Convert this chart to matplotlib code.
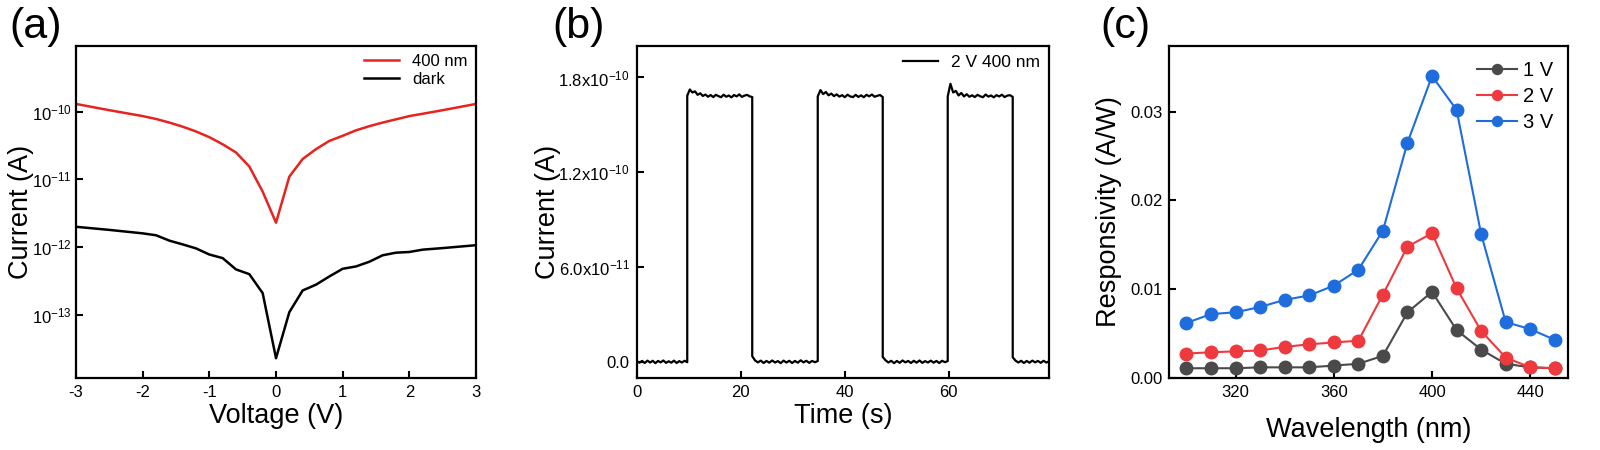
import numpy as np
import matplotlib
matplotlib.use('Agg')
import matplotlib.pyplot as plt

plt.rcParams['font.family'] = ['Liberation Sans', 'DejaVu Sans']
plt.rcParams['mathtext.default'] = 'regular'
plt.rcParams['axes.unicode_minus'] = False

# (a) I-V curves
voltage = [-3.0, -2.5, -2.0, -1.8, -1.6, -1.4, -1.2, -1.0, -0.8, -0.6, -0.4, -0.2, 0.0,
           0.2, 0.4, 0.6, 0.8, 1.0, 1.2, 1.4, 1.6, 1.8, 2.0, 2.2, 2.5, 3.0]
i_400nm = [1.3e-10, 1.05e-10, 8.6e-11, 7.8e-11, 6.9e-11, 6.0e-11, 5.1e-11, 4.2e-11, 3.3e-11, 2.5e-11,
           1.55e-11, 6.6e-12, 2.3e-12, 1.1e-11, 2.0e-11, 2.8e-11, 3.7e-11, 4.4e-11, 5.3e-11,
           6.1e-11, 6.9e-11, 7.7e-11, 8.6e-11, 9.3e-11, 1.05e-10, 1.3e-10]
i_dark = [2.0e-12, 1.8e-12, 1.6e-12, 1.5e-12, 1.25e-12, 1.1e-12, 9.6e-13, 7.8e-13, 6.9e-13, 4.7e-13,
          4.0e-13, 2.1e-13, 2.3e-14, 1.1e-13, 2.3e-13, 2.8e-13, 3.7e-13, 4.8e-13, 5.2e-13,
          6.1e-13, 7.6e-13, 8.3e-13, 8.5e-13, 9.2e-13, 9.7e-13, 1.07e-12]

# (b) on/off switching at 2 V, 400 nm (current in pA, each segment spread over its time span)
seg_start = [0.0, 9.7, 22.2, 34.8, 47.3, 59.8, 72.3]
seg_end = [9.7, 22.2, 34.8, 47.3, 59.8, 72.3, 79.3]
seg_current = [
    [0.4, -0.6, 0.5, -0.8, 0.7, -0.5, 0.6, -0.9, 0.5, -0.4, 0.8, -0.7, 0.3, -0.6, 0.7, -0.8, 0.4, -0.5, 0.6, -0.3],
    [168.5, 172.4, 170.5, 171.2, 169.0, 170.0, 168.3, 169.2, 167.8, 168.9, 167.6, 169.0, 168.2, 167.5, 169.1,
     167.8, 168.6, 167.4, 168.9, 168.0, 169.3, 167.7, 168.5, 169.0, 168.1, 167.6],
    [3.5, 0.8, -0.4, 0.7, -0.8, 0.5, -0.6, 0.8, -0.5, 0.4, -0.9, 0.7, -0.5, 0.6, -0.8, 0.5, -0.6, 0.9, -0.4,
     0.6, -0.7, 0.5, -0.3, 0.4],
    [168.0, 172.0, 169.5, 170.8, 168.7, 169.8, 168.2, 169.3, 167.9, 168.8, 167.5, 169.1, 168.0, 167.6, 169.0,
     167.7, 168.7, 167.5, 169.0, 168.1, 169.2, 167.8, 168.4, 168.9, 167.6],
    [3.0, 0.9, -0.5, 0.6, -0.9, 0.5, -0.7, 0.8, -0.4, 0.5, -0.8, 0.6, -0.6, 0.8, -0.7, 0.4, -0.5, 0.7, -0.6,
     0.5, -0.8, 0.6, -0.3, 0.4],
    [168.0, 176.0, 170.5, 171.5, 168.6, 170.2, 168.0, 169.4, 167.8, 168.7, 167.6, 169.0, 168.1, 167.5, 169.2,
     167.9, 168.6, 167.4, 168.8, 168.0, 169.1, 167.6, 168.5, 168.8, 167.7],
    [2.8, 0.7, -0.5, 0.6, -0.8, 0.5, -0.6, 0.7, -0.4, 0.5, -0.7, 0.6, -0.5, 0.3],
]

# (c) responsivity spectra
wavelength = [300, 310, 320, 330, 340, 350, 360, 370, 380, 390, 400, 410, 420, 430, 440, 450]
resp_1v = [0.0011, 0.0011, 0.0011, 0.0012, 0.0012, 0.0012, 0.0014, 0.0016, 0.0025, 0.0074,
           0.0097, 0.0054, 0.0032, 0.0016, 0.0012, 0.0011]
resp_2v = [0.00275, 0.0029, 0.0030, 0.0031, 0.0035, 0.0038, 0.0040, 0.0042, 0.0094, 0.0148,
           0.0163, 0.0101, 0.0053, 0.0023, 0.0012, 0.0011]
resp_3v = [0.0062, 0.0072, 0.0074, 0.0080, 0.0088, 0.0093, 0.0104, 0.0122, 0.0166, 0.0265,
           0.0340, 0.0302, 0.0162, 0.0063, 0.0055, 0.0043]

fig = plt.figure(figsize=(16, 4.5), dpi=100)
ax1 = fig.add_axes([0.0475, 0.16, 0.25, 0.738])
ax2 = fig.add_axes([0.398, 0.16, 0.2577, 0.738])
ax3 = fig.add_axes([0.7308, 0.16, 0.2494, 0.738])

for ax in (ax1, ax2, ax3):
    for s in ax.spines.values():
        s.set_linewidth(1.6)
    ax.tick_params(direction='in', length=5, width=1.5, labelsize=12, pad=5)
    ax.tick_params(which='minor', length=0)
ax1.tick_params(axis='y', pad=3)

# panel a
ax1.semilogy(voltage, i_400nm, color='#e8231f', lw=1.8, label='400 nm')
ax1.semilogy(voltage, i_dark, color='black', lw=1.8, label='dark')
ax1.set_xlim(-3, 3)
ax1.set_ylim(10 ** -13.93, 10 ** -9.03)
ax1.set_xticks([-3, -2, -1, 0, 1, 2, 3])
ax1.set_yticks([1e-13, 1e-12, 1e-11, 1e-10])
ax1.set_yticklabels(['10$^{-13}$', '10$^{-12}$', '10$^{-11}$', '10$^{-10}$'])
ax1.set_xlabel('Voltage (V)', fontsize=19.5, labelpad=2)
ax1.set_ylabel('Current (A)', fontsize=19.5)
ax1.yaxis.set_label_coords(-0.105, 0.5)
ax1.legend(loc='upper right', frameon=False, fontsize=12, handlelength=2.1,
           borderaxespad=0.1, labelspacing=0.15)

# panel b
t_all = []
i_all = []
for t0, t1, vals in zip(seg_start, seg_end, seg_current):
    t_all.extend(np.linspace(t0, t1, len(vals)))
    i_all.extend(vals)
ax2.plot(t_all, np.array(i_all) * 1e-12, color='black', lw=1.6, label='2 V 400 nm')
ax2.set_xlim(0, 79.3)
ax2.set_ylim(-1.03e-11, 2.0e-10)
ax2.set_xticks([0, 20, 40, 60])
ax2.set_yticks([0, 6e-11, 1.2e-10, 1.8e-10])
ax2.set_yticklabels(['0.0', '6.0x10$^{-11}$', '1.2x10$^{-10}$', '1.8x10$^{-10}$'])
ax2.set_xlabel('Time (s)', fontsize=19.5, labelpad=2)
ax2.set_ylabel('Current (A)', fontsize=19.5)
ax2.yaxis.set_label_coords(-0.185, 0.5)
ax2.legend(loc='upper right', frameon=False, fontsize=12.5, handlelength=2.0,
           borderaxespad=0.1)

# panel c
ax3.plot(wavelength, resp_1v, '-o', color='#4a4a4a', lw=1.5, ms=9, label='1 V')
ax3.plot(wavelength, resp_2v, '-o', color='#ee3a3e', lw=1.5, ms=9, label='2 V')
ax3.plot(wavelength, resp_3v, '-o', color='#1f6ddc', lw=1.5, ms=9, label='3 V')
ax3.set_xlim(293, 455.5)
ax3.set_ylim(0, 0.0374)
ax3.set_xticks([320, 360, 400, 440])
ax3.set_yticks([0, 0.01, 0.02, 0.03])
ax3.set_yticklabels(['0.00', '0.01', '0.02', '0.03'])
ax3.set_xlabel('Wavelength (nm)', fontsize=19.5, labelpad=12)
ax3.set_ylabel('Responsivity (A/W)', fontsize=19.5, labelpad=6)
ax3.legend(loc='upper right', frameon=False, fontsize=14.5, handlelength=2.0,
           markerscale=0.8, borderaxespad=0.35, labelspacing=0.35, handletextpad=0.3)

fig.text(0.006, 0.94, '(a)', fontsize=31, va='center', ha='left')
fig.text(0.3455, 0.94, '(b)', fontsize=31, va='center', ha='left')
fig.text(0.688, 0.94, '(c)', fontsize=31, va='center', ha='left')

fig.savefig('out.png', dpi=100)
